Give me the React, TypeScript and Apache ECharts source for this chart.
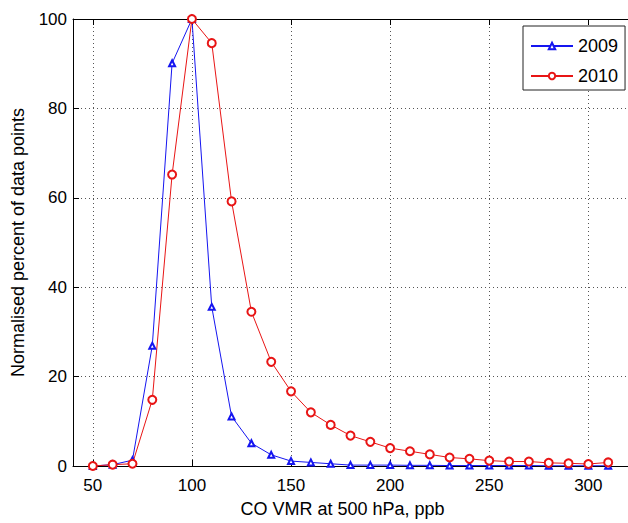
import React, { useEffect, useRef } from "react";
import * as echarts from "echarts";

const xValues = [50, 60, 70, 80, 90, 100, 110, 120, 130, 140, 150, 160, 170, 180, 190, 200, 210, 220, 230, 240, 250, 260, 270, 280, 290, 300, 310];
const series2009 = [0, 0.3, 1.3, 26.9, 90.1, 100, 35.6, 11.1, 5.1, 2.5, 1.1, 0.8, 0.5, 0.2, 0.2, 0.2, 0.15, 0.15, 0.1, 0.1, 0.1, 0.1, 0.1, 0.05, 0.05, 0.05, 0.05];
const series2010 = [0, 0.3, 0.5, 14.8, 65.2, 100, 94.6, 59.2, 34.5, 23.3, 16.7, 12.0, 9.2, 6.8, 5.4, 4.0, 3.3, 2.6, 1.9, 1.6, 1.2, 1.0, 1.0, 0.7, 0.6, 0.45, 0.8];
const seriesNames = ["2009", "2010"];
const xTitle = "CO VMR at 500 hPa, ppb";
const yTitle = "Normalised percent of data points";

const FONT = "Liberation Sans, Arial, Helvetica, sans-serif";

export default function App() {
  const ref = useRef<HTMLDivElement>(null);
  useEffect(() => {
    if (!ref.current) return;
    const chart = echarts.init(ref.current, null, { renderer: "svg" });
    const pair = (ys: number[]) => xValues.map((x, i) => [x, ys[i]]);
    chart.setOption({
      animation: false,
      backgroundColor: "#ffffff",
      textStyle: { fontFamily: FONT, color: "#000" },
      grid: { left: 73, top: 19, right: -2, bottom: 56, show: false },
      legend: {
        orient: "vertical",
        left: 523,
        top: 26,
        padding: [11, 7, 5, 7],
        itemGap: 12,
        itemWidth: 42,
        itemHeight: 8,
        backgroundColor: "#fff",
        borderColor: "#222",
        borderWidth: 1,
        textStyle: { fontFamily: FONT, fontSize: 18, color: "#000" },
        data: seriesNames,
      },
      xAxis: [
        {
          type: "value",
          min: 40,
          max: 320,
          splitNumber: 5,
          name: xTitle,
          nameLocation: "middle",
          nameGap: 34,
          nameTextStyle: { fontFamily: FONT, fontSize: 18, color: "#000", padding: [0, 16, 0, 0] },
          axisLine: { show: true, lineStyle: { color: "#000", width: 1 } },
          axisTick: { show: true, inside: true, length: 6, lineStyle: { color: "#000" } },
          axisLabel: { showMinLabel: false, showMaxLabel: false, margin: 11, fontFamily: FONT, fontSize: 17, color: "#000" },
          splitLine: { show: true, lineStyle: { color: "#555", type: [1, 3], width: 1 } },
        },
        {
          type: "value",
          position: "top",
          min: 40,
          max: 320,
          splitNumber: 5,
          axisLine: { show: true, lineStyle: { color: "#000", width: 1 } },
          axisTick: { show: true, inside: true, length: 6, lineStyle: { color: "#000" } },
          axisLabel: { show: false },
          splitLine: { show: false },
        },
      ],
      yAxis: [
        {
          type: "value",
          min: 0,
          max: 100,
          interval: 20,
          name: yTitle,
          nameLocation: "middle",
          nameGap: 46,
          nameTextStyle: { fontFamily: FONT, fontSize: 18, color: "#000" },
          axisLine: { show: true, lineStyle: { color: "#000", width: 1 } },
          axisTick: { show: true, inside: true, length: 6, lineStyle: { color: "#000" } },
          axisLabel: { margin: 6, fontFamily: FONT, fontSize: 17, color: "#000" },
          splitLine: { show: true, lineStyle: { color: "#555", type: [1, 3], width: 1 } },
        },
      ],
      series: [
        {
          name: seriesNames[0],
          type: "line",
          data: pair(series2009),
          symbol: "emptyTriangle",
          symbolSize: 6,
          color: "#1515f0",
          lineStyle: { color: "#1515f0", width: 1 },
          itemStyle: { color: "#1515f0", borderColor: "#1515f0", borderWidth: 1 },
        },
        {
          name: seriesNames[1],
          type: "line",
          data: pair(series2010),
          symbol: "emptyCircle",
          symbolSize: 8,
          color: "#e81515",
          lineStyle: { color: "#e81515", width: 1 },
          itemStyle: { color: "#e81515", borderColor: "#e81515", borderWidth: 1 },
        },
      ],
    });
    return () => chart.dispose();
  }, []);
  return <div ref={ref} style={{ position: "fixed", left: 0, top: 0, width: 628, height: 523 }} />;
}
